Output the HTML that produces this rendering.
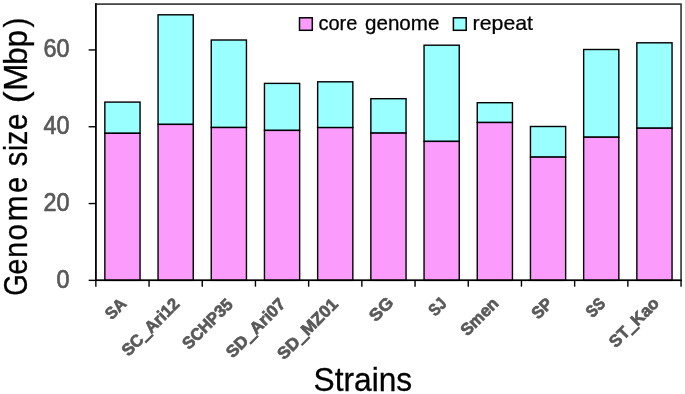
<!DOCTYPE html>
<html><head><meta charset="utf-8"><title>Genome size chart</title>
<style>
html,body{margin:0;padding:0;background:#fff}
body{width:685px;height:394px;overflow:hidden;font-family:"Liberation Sans",sans-serif}
svg text{font-family:"Liberation Sans",sans-serif}
</style></head><body>
<svg width="685" height="394" viewBox="0 0 685 394" style="display:block;will-change:transform">
<rect width="685" height="394" fill="#fff"/>
<rect x="104.85" y="102.10" width="35.2" height="31.20" fill="#99FFFF" stroke="#000" stroke-width="1.4"/>
<rect x="104.85" y="133.30" width="35.2" height="147.05" fill="#FB9BFB" stroke="#000" stroke-width="1.4"/>
<rect x="158.05" y="14.80" width="35.2" height="109.60" fill="#99FFFF" stroke="#000" stroke-width="1.4"/>
<rect x="158.05" y="124.40" width="35.2" height="155.95" fill="#FB9BFB" stroke="#000" stroke-width="1.4"/>
<rect x="211.25" y="40.00" width="35.2" height="87.50" fill="#99FFFF" stroke="#000" stroke-width="1.4"/>
<rect x="211.25" y="127.50" width="35.2" height="152.85" fill="#FB9BFB" stroke="#000" stroke-width="1.4"/>
<rect x="264.45" y="83.40" width="35.2" height="47.00" fill="#99FFFF" stroke="#000" stroke-width="1.4"/>
<rect x="264.45" y="130.40" width="35.2" height="149.95" fill="#FB9BFB" stroke="#000" stroke-width="1.4"/>
<rect x="317.65" y="81.80" width="35.2" height="45.80" fill="#99FFFF" stroke="#000" stroke-width="1.4"/>
<rect x="317.65" y="127.60" width="35.2" height="152.75" fill="#FB9BFB" stroke="#000" stroke-width="1.4"/>
<rect x="370.85" y="98.70" width="35.2" height="34.40" fill="#99FFFF" stroke="#000" stroke-width="1.4"/>
<rect x="370.85" y="133.10" width="35.2" height="147.25" fill="#FB9BFB" stroke="#000" stroke-width="1.4"/>
<rect x="424.05" y="45.20" width="35.2" height="96.20" fill="#99FFFF" stroke="#000" stroke-width="1.4"/>
<rect x="424.05" y="141.40" width="35.2" height="138.95" fill="#FB9BFB" stroke="#000" stroke-width="1.4"/>
<rect x="477.25" y="102.70" width="35.2" height="19.80" fill="#99FFFF" stroke="#000" stroke-width="1.4"/>
<rect x="477.25" y="122.50" width="35.2" height="157.85" fill="#FB9BFB" stroke="#000" stroke-width="1.4"/>
<rect x="530.45" y="126.50" width="35.2" height="30.60" fill="#99FFFF" stroke="#000" stroke-width="1.4"/>
<rect x="530.45" y="157.10" width="35.2" height="123.25" fill="#FB9BFB" stroke="#000" stroke-width="1.4"/>
<rect x="583.65" y="49.50" width="35.2" height="87.70" fill="#99FFFF" stroke="#000" stroke-width="1.4"/>
<rect x="583.65" y="137.20" width="35.2" height="143.15" fill="#FB9BFB" stroke="#000" stroke-width="1.4"/>
<rect x="636.85" y="42.80" width="35.2" height="85.40" fill="#99FFFF" stroke="#000" stroke-width="1.4"/>
<rect x="636.85" y="128.20" width="35.2" height="152.15" fill="#FB9BFB" stroke="#000" stroke-width="1.4"/>
<rect x="95.85" y="4.1" width="585.1999999999999" height="276.25" fill="none" stroke="#262626" stroke-width="1.5"/>
<path d="M95.85,3.3499999999999996 V280.35 H681.8" fill="none" stroke="#000" stroke-width="1.5"/>
<line x1="88.64999999999999" y1="280.35" x2="95.85" y2="280.35" stroke="#000" stroke-width="1.4"/>
<text transform="translate(69.6,287.85) scale(0.935,1)" text-anchor="end" font-size="25.0" fill="#595959" stroke="#595959" stroke-width="0.7">0</text>
<line x1="88.64999999999999" y1="203.55" x2="95.85" y2="203.55" stroke="#000" stroke-width="1.4"/>
<text transform="translate(69.6,211.05) scale(0.935,1)" text-anchor="end" font-size="25.0" fill="#595959" stroke="#595959" stroke-width="0.7">20</text>
<line x1="88.64999999999999" y1="126.75" x2="95.85" y2="126.75" stroke="#000" stroke-width="1.4"/>
<text transform="translate(69.6,134.25) scale(0.935,1)" text-anchor="end" font-size="25.0" fill="#595959" stroke="#595959" stroke-width="0.7">40</text>
<line x1="88.64999999999999" y1="49.95" x2="95.85" y2="49.95" stroke="#000" stroke-width="1.4"/>
<text transform="translate(69.6,57.45) scale(0.935,1)" text-anchor="end" font-size="25.0" fill="#595959" stroke="#595959" stroke-width="0.7">60</text>
<line x1="95.85" y1="280.35" x2="95.85" y2="286.65000000000003" stroke="#000" stroke-width="1.4"/>
<line x1="149.05" y1="280.35" x2="149.05" y2="286.65000000000003" stroke="#000" stroke-width="1.4"/>
<line x1="202.25" y1="280.35" x2="202.25" y2="286.65000000000003" stroke="#000" stroke-width="1.4"/>
<line x1="255.45" y1="280.35" x2="255.45" y2="286.65000000000003" stroke="#000" stroke-width="1.4"/>
<line x1="308.65" y1="280.35" x2="308.65" y2="286.65000000000003" stroke="#000" stroke-width="1.4"/>
<line x1="361.85" y1="280.35" x2="361.85" y2="286.65000000000003" stroke="#000" stroke-width="1.4"/>
<line x1="415.05" y1="280.35" x2="415.05" y2="286.65000000000003" stroke="#000" stroke-width="1.4"/>
<line x1="468.25" y1="280.35" x2="468.25" y2="286.65000000000003" stroke="#000" stroke-width="1.4"/>
<line x1="521.45" y1="280.35" x2="521.45" y2="286.65000000000003" stroke="#000" stroke-width="1.4"/>
<line x1="574.65" y1="280.35" x2="574.65" y2="286.65000000000003" stroke="#000" stroke-width="1.4"/>
<line x1="627.85" y1="280.35" x2="627.85" y2="286.65000000000003" stroke="#000" stroke-width="1.4"/>
<line x1="681.05" y1="280.35" x2="681.05" y2="286.65000000000003" stroke="#000" stroke-width="1.4"/>
<text transform="translate(127.40,304.80) rotate(-45) scale(0.95,1)" text-anchor="end" font-size="16.8" font-weight="bold" fill="#595959" stroke="#595959" stroke-width="0.7">SA</text>
<text transform="translate(180.50,305.10) rotate(-45) scale(0.985,1)" text-anchor="end" font-size="16.8" font-weight="bold" fill="#595959" stroke="#595959" stroke-width="0.7">SC<tspan stroke-width="1.6">_</tspan>Ari12</text>
<text transform="translate(233.80,305.50) rotate(-45) scale(0.97,1)" text-anchor="end" font-size="16.8" font-weight="bold" fill="#595959" stroke="#595959" stroke-width="0.7">SCHP35</text>
<text transform="translate(286.50,305.00) rotate(-45) scale(1.02,1)" text-anchor="end" font-size="16.8" font-weight="bold" fill="#595959" stroke="#595959" stroke-width="0.7">SD<tspan stroke-width="1.6">_</tspan>Ari07</text>
<text transform="translate(339.20,305.20) rotate(-45) scale(1.033,1)" text-anchor="end" font-size="16.8" font-weight="bold" fill="#595959" stroke="#595959" stroke-width="0.7">SD<tspan stroke-width="1.6">_</tspan>MZ01</text>
<text transform="translate(394.50,303.70) rotate(-45) scale(1.09,1)" text-anchor="end" font-size="16.8" font-weight="bold" fill="#595959" stroke="#595959" stroke-width="0.7">SG</text>
<text transform="translate(447.50,304.70) rotate(-45) scale(0.85,1)" text-anchor="end" font-size="16.8" font-weight="bold" fill="#595959" stroke="#595959" stroke-width="0.7">SJ</text>
<text transform="translate(499.50,304.50) rotate(-45) scale(1.0,1)" text-anchor="end" font-size="16.8" font-weight="bold" fill="#595959" stroke="#595959" stroke-width="0.7">Smen</text>
<text transform="translate(553.60,304.70) rotate(-45) scale(0.97,1)" text-anchor="end" font-size="16.8" font-weight="bold" fill="#595959" stroke="#595959" stroke-width="0.7">SP</text>
<text transform="translate(606.40,304.70) rotate(-45) scale(0.87,1)" text-anchor="end" font-size="16.8" font-weight="bold" fill="#595959" stroke="#595959" stroke-width="0.7">SS</text>
<text transform="translate(660.00,304.30) rotate(-45) scale(1.0,1)" text-anchor="end" font-size="16.8" font-weight="bold" fill="#595959" stroke="#595959" stroke-width="0.7">ST<tspan stroke-width="1.6">_</tspan>Kao</text>
<rect x="299.5" y="17.8" width="12.8" height="12.5" fill="#FB9BFB" stroke="#000" stroke-width="1.5"/>
<text transform="translate(318.4,30.4) scale(1.0,1)" font-size="20" fill="#000" stroke="#000" stroke-width="0.25">core</text>
<text transform="translate(365.0,30.4) scale(1.03,1)" font-size="20" fill="#000" stroke="#000" stroke-width="0.25">genome</text>
<rect x="453.4" y="17.8" width="12.8" height="12.5" fill="#99FFFF" stroke="#000" stroke-width="1.5"/>
<text transform="translate(472.6,30.4) scale(1.065,1)" font-size="20" fill="#000" stroke="#000" stroke-width="0.25">repeat</text>
<text transform="translate(313.6,390.9) scale(0.972,1)" font-size="32.6" fill="#000" stroke="#000" stroke-width="0.3">Strains</text>
<text transform="translate(27.1,27.40) rotate(-90) scale(0.881,1)" font-size="33.5" fill="#000" stroke="#000" stroke-width="0.3">)</text>
<text transform="translate(27.1,47.13) rotate(-90) scale(0.922,1)" font-size="33.5" fill="#000" stroke="#000" stroke-width="0.3">p</text>
<text transform="translate(27.1,64.64) rotate(-90) scale(0.929,1)" font-size="33.5" fill="#000" stroke="#000" stroke-width="0.3">b</text>
<text transform="translate(27.1,90.88) rotate(-90) scale(0.986,1)" font-size="33.5" fill="#000" stroke="#000" stroke-width="0.3">M</text>
<text transform="translate(27.1,103.28) rotate(-90) scale(1.072,1)" font-size="33.5" fill="#000" stroke="#000" stroke-width="0.3">(</text>
<text transform="translate(27.1,130.12) rotate(-90) scale(0.881,1)" font-size="33.5" fill="#000" stroke="#000" stroke-width="0.3">e</text>
<text transform="translate(27.1,145.00) rotate(-90) scale(0.856,1)" font-size="33.5" fill="#000" stroke="#000" stroke-width="0.3">z</text>
<text transform="translate(27.1,150.80) rotate(-90) scale(0.764,1)" font-size="33.5" fill="#000" stroke="#000" stroke-width="0.3">i</text>
<text transform="translate(27.1,166.35) rotate(-90) scale(0.863,1)" font-size="33.5" fill="#000" stroke="#000" stroke-width="0.3">s</text>
<text transform="translate(27.1,193.11) rotate(-90) scale(0.869,1)" font-size="33.5" fill="#000" stroke="#000" stroke-width="0.3">e</text>
<text transform="translate(27.1,221.47) rotate(-90) scale(0.939,1)" font-size="33.5" fill="#000" stroke="#000" stroke-width="0.3">m</text>
<text transform="translate(27.1,240.42) rotate(-90) scale(0.881,1)" font-size="33.5" fill="#000" stroke="#000" stroke-width="0.3">o</text>
<text transform="translate(27.1,257.67) rotate(-90) scale(0.846,1)" font-size="33.5" fill="#000" stroke="#000" stroke-width="0.3">n</text>
<text transform="translate(27.1,274.70) rotate(-90) scale(0.863,1)" font-size="33.5" fill="#000" stroke="#000" stroke-width="0.3">e</text>
<text transform="translate(27.1,295.69) rotate(-90) scale(0.823,1)" font-size="33.5" fill="#000" stroke="#000" stroke-width="0.3">G</text>
</svg>
</body></html>
